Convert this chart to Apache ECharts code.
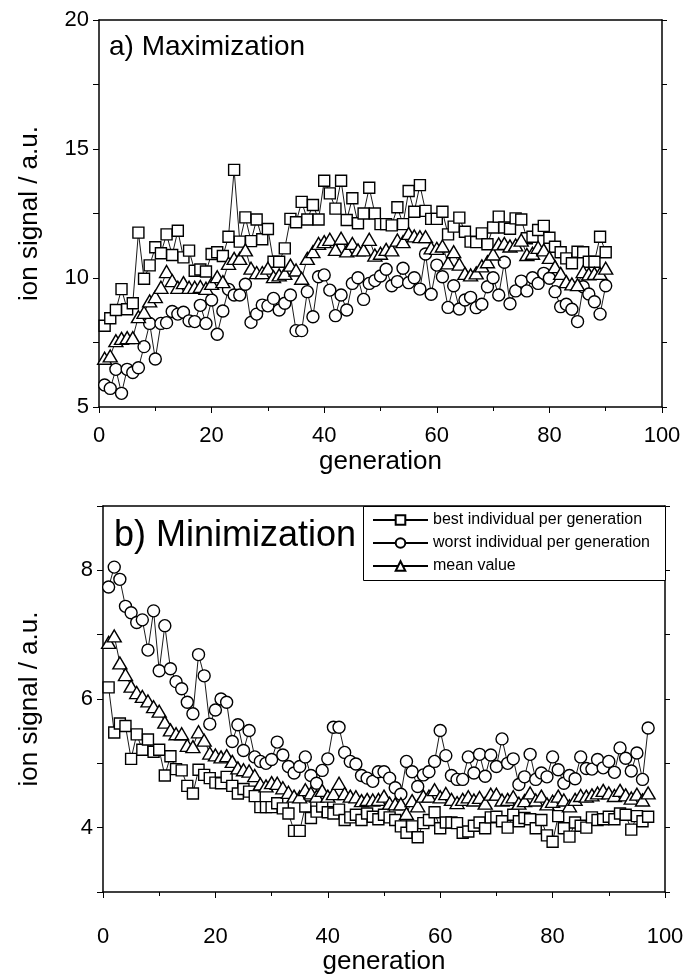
<!DOCTYPE html>
<html>
<head>
<meta charset="utf-8">
<script src="https://cdn.jsdelivr.net/npm/echarts/dist/echarts.min.js"></script>
<style>
html,body{margin:0;padding:0;background:#fff;}
#chart{width:687px;height:979px;}
</style>
</head>
<body>
<div id="chart"></div>
<script>
// ---- data ----
const firstGeneration = 1;
const xTicks = [0, 20, 40, 60, 80, 100];
const yTicksTop = [5, 10, 15, 20];
const yTicksBottom = [4, 6, 8];

// a) Maximization, generations 1..90
const maxBest = [8.15,8.44,8.76,9.57,8.79,9.02,11.76,9.97,10.49,11.19,10.96,11.69,10.89,11.83,10.8,11.06,10.28,10.33,10.25,10.93,
11.0,10.85,11.6,14.19,11.41,12.35,11.43,12.27,11.5,11.9,10.63,10.63,11.15,12.29,12.16,12.95,12.27,12.83,12.27,13.77,
13.28,12.69,13.77,12.25,13.09,12.12,12.5,13.5,12.5,12.09,12.09,12.04,12.74,12.09,13.37,12.57,13.6,12.6,12.29,12.29,
12.57,11.69,11.99,12.34,11.79,11.41,11.39,11.73,11.31,11.96,12.38,11.96,11.91,12.31,12.27,11.54,11.6,11.86,12.02,11.56,
11.21,11.0,10.76,10.57,11.02,11.0,10.63,10.63,11.6,11.0];
const maxWorst = [5.85,5.72,6.46,5.53,6.46,6.34,6.52,7.34,8.24,6.86,8.24,8.27,8.7,8.6,8.67,8.34,8.31,8.94,8.24,9.15,
7.82,8.72,9.56,9.34,9.34,9.76,8.28,8.6,8.95,8.92,9.21,8.76,9.02,9.34,7.96,7.96,9.47,8.5,10.05,10.12,
9.53,8.54,9.34,8.76,9.79,10.01,9.17,9.79,9.9,10.08,10.34,9.7,9.86,10.38,9.82,10.01,9.57,10.93,9.37,10.5,
10.05,8.86,9.7,8.8,9.15,9.25,8.85,8.98,9.66,10.01,9.34,10.61,9.0,9.5,9.88,9.5,10.01,9.79,10.18,9.99,
9.47,8.89,8.98,8.79,8.31,9.66,9.38,9.08,8.6,9.7];
const maxMean = [6.89,6.98,7.57,7.66,7.69,7.69,8.5,8.67,9.11,9.28,9.64,10.25,9.9,9.64,9.82,9.64,9.64,9.67,9.6,9.79,
10.05,9.86,10.57,10.76,10.76,11.09,10.38,10.21,10.21,10.38,10.05,10.12,10.18,10.5,10.31,9.99,10.76,11.02,11.34,11.41,
11.5,11.11,11.54,11.05,11.34,11.09,11.09,11.5,10.89,10.96,11.11,11.09,11.47,11.41,11.73,11.63,11.6,11.6,11.17,11.15,
11.24,10.59,11.02,10.54,10.18,10.12,10.2,10.47,10.63,10.93,11.32,11.34,11.24,11.28,11.47,10.91,10.96,11.19,11.09,10.8,
10.44,10.18,9.86,9.77,9.74,10.25,10.16,10.18,10.18,10.38];

// b) Minimization, generations 1..97
const minBest = [6.18,5.48,5.62,5.58,5.07,5.45,5.21,5.37,5.18,5.21,4.81,5.11,4.91,4.89,4.65,4.53,4.9,4.82,4.77,4.7,
4.69,4.79,4.65,4.53,4.6,4.56,4.49,4.32,4.32,4.32,4.38,4.3,4.22,3.95,3.95,4.33,4.15,4.25,4.33,4.24,
4.22,4.28,4.12,4.16,4.2,4.12,4.22,4.17,4.13,4.2,4.16,4.12,4.02,3.92,4.02,3.85,4.07,4.12,4.24,3.99,
4.08,4.08,4.07,3.92,3.94,4.03,4.08,3.99,4.16,4.17,4.1,4.0,4.2,4.1,4.15,4.13,3.99,4.12,3.88,3.78,
4.18,3.99,3.86,4.08,4.03,4.0,4.16,4.12,4.13,4.17,4.13,4.22,4.2,3.97,4.18,4.1,4.17];
const minWorst = [7.74,8.05,7.86,7.44,7.34,7.19,7.23,6.76,7.37,6.44,7.14,6.47,6.27,6.16,5.95,5.77,6.69,6.36,5.61,5.83,
6.0,5.95,5.34,5.6,5.2,5.51,5.1,5.03,5.0,5.06,5.33,5.13,4.95,4.85,4.95,5.1,4.81,4.69,4.89,5.07,
5.56,5.56,5.17,5.03,4.99,4.81,4.77,4.72,4.87,4.87,4.77,4.62,4.52,5.03,4.87,4.64,4.82,4.87,5.03,5.51,
5.12,4.81,4.75,4.75,5.1,4.85,5.14,4.8,5.13,4.95,5.38,5.0,5.07,4.67,4.79,5.14,4.75,4.85,4.79,5.1,
4.9,4.69,4.81,4.76,5.1,4.92,4.91,5.06,4.93,5.03,4.86,5.24,5.08,4.88,5.16,4.75,5.55];
const minMean = [6.88,6.98,6.56,6.38,6.2,6.1,6.04,5.97,5.88,5.81,5.64,5.52,5.46,5.46,5.28,5.26,5.49,5.36,5.16,5.13,
5.1,5.12,5.03,4.93,4.9,4.88,4.81,4.68,4.65,4.7,4.69,4.62,4.55,4.49,4.48,4.59,4.54,4.49,4.58,4.49,
4.53,4.69,4.53,4.49,4.48,4.42,4.44,4.43,4.44,4.49,4.38,4.37,4.37,4.22,4.42,4.34,4.49,4.49,4.59,4.48,
4.53,4.44,4.39,4.44,4.48,4.43,4.47,4.38,4.52,4.52,4.43,4.44,4.48,4.38,4.42,4.54,4.43,4.49,4.37,4.41,
4.49,4.43,4.34,4.44,4.5,4.49,4.51,4.54,4.58,4.54,4.5,4.58,4.51,4.46,4.52,4.43,4.54];

const seriesNames = ['best individual per generation', 'worst individual per generation', 'mean value'];

// ---- chart ----
const FONT = "'Liberation Sans', Arial, sans-serif";
const pairs = vals => vals.map((v, i) => [firstGeneration + i, v]);

function xAxes(gridIndex, labelMargin, nameGap) {
  return [
    {
      type: 'value', gridIndex, position: 'bottom', min: xTicks[0], max: xTicks[xTicks.length - 1], interval: 20,
      name: 'generation', nameLocation: 'middle', nameGap,
      nameTextStyle: { fontFamily: FONT, fontSize: 26, color: '#000' },
      axisLine: { show: true, onZero: false, lineStyle: { color: '#000', width: 1.5 } },
      axisTick: { show: true, inside: false, length: 6, lineStyle: { color: '#000', width: 1 } },
      minorTick: { show: true, splitNumber: 2, length: 4, lineStyle: { color: '#000', width: 1 } },
      axisLabel: { fontFamily: FONT, fontSize: 22, color: '#000', margin: labelMargin,
        formatter: v => xTicks.indexOf(v) >= 0 ? String(v) : '' },
      splitLine: { show: false }
    },
    {
      type: 'value', gridIndex, position: 'top', min: xTicks[0], max: xTicks[xTicks.length - 1], interval: 20,
      axisLine: { show: true, onZero: false, lineStyle: { color: '#000', width: 1.5 } },
      axisTick: { show: false }, axisLabel: { show: false }, splitLine: { show: false }
    }
  ];
}

function yAxes(gridIndex, min, max, interval, ticks, nameGap, minorSplit) {
  const common = { type: 'value', gridIndex, min, max, interval, splitLine: { show: false } };
  return [
    Object.assign({}, common, {
      position: 'left',
      name: 'ion signal / a.u.', nameLocation: 'middle', nameGap, nameRotate: 90,
      nameTextStyle: { fontFamily: FONT, fontSize: 26, color: '#000' },
      axisLine: { show: true, onZero: false, lineStyle: { color: '#000', width: 1.5 } },
      axisTick: { show: true, inside: false, length: 6, lineStyle: { color: '#000', width: 1 } },
      minorTick: { show: minorSplit > 1, splitNumber: minorSplit, length: 6, lineStyle: { color: '#000', width: 1 } },
      axisLabel: { fontFamily: FONT, fontSize: 22, color: '#000', margin: 10,
        formatter: v => ticks.indexOf(v) >= 0 ? String(v) : '' }
    }),
    Object.assign({}, common, {
      position: 'right',
      axisLine: { show: true, onZero: false, lineStyle: { color: '#000', width: 1.5 } },
      axisTick: { show: true, inside: false, length: 5, lineStyle: { color: '#000', width: 1 } },
      minorTick: { show: minorSplit > 1, splitNumber: minorSplit, length: 5, lineStyle: { color: '#000', width: 1 } },
      axisLabel: { show: false }
    })
  ];
}

const markers = [
  { symbol: 'rect', size: 11 },
  { symbol: 'circle', size: 12 },
  { symbol: 'triangle', size: [14, 12] }
];

function makeSeries(idx, vals, axisIdx) {
  return {
    name: seriesNames[idx], type: 'line', xAxisIndex: axisIdx, yAxisIndex: axisIdx,
    data: pairs(vals), symbol: markers[idx].symbol, symbolSize: markers[idx].size, showAllSymbol: true,
    lineStyle: { color: '#000', width: 0.9 },
    itemStyle: { color: '#fff', borderColor: '#000', borderWidth: 1.4 },
    emphasis: { disabled: true }, animation: false, z: 2 + idx
  };
}

const chart = echarts.init(document.getElementById('chart'), null, { renderer: 'canvas' });
chart.setOption({
  backgroundColor: '#fff',
  animation: false,
  title: [
    { text: 'a) Maximization', left: 104, top: 28, textStyle: { fontFamily: FONT, fontSize: 28, fontWeight: 'normal', color: '#000' } },
    { text: 'b) Minimization', left: 109, top: 513, textStyle: { fontFamily: FONT, fontSize: 36, fontWeight: 'normal', color: '#000' } }
  ],
  graphic: [
    { type: 'rect', shape: { x: 363.5, y: 506.5, width: 302, height: 74 },
      style: { fill: '#fff', stroke: '#000', lineWidth: 1 }, z: 50, silent: true }
  ],
  legend: {
    data: seriesNames, orient: 'vertical', left: 366, top: 508,
    padding: [4, 6, 6, 6], itemGap: 7, itemWidth: 55, itemHeight: 12,
    textStyle: { fontFamily: FONT, fontSize: 16, color: '#000' },
    selectedMode: false, z: 60
  },
  grid: [
    { left: 99, right: 25, top: 20, height: 387 },
    { left: 103, right: 22, top: 506, height: 386 }
  ],
  xAxis: xAxes(0, 18, 42).concat(xAxes(1, 34, 57)),
  yAxis: yAxes(0, 5, 20, 5, yTicksTop, 56, 2).concat(yAxes(1, 3, 9, 1, yTicksBottom, 60, 0)),
  series: [
    makeSeries(0, maxBest, 0), makeSeries(1, maxWorst, 0), makeSeries(2, maxMean, 0),
    makeSeries(0, minBest, 2), makeSeries(1, minWorst, 2), makeSeries(2, minMean, 2)
  ]
});
</script>
</body>
</html>
